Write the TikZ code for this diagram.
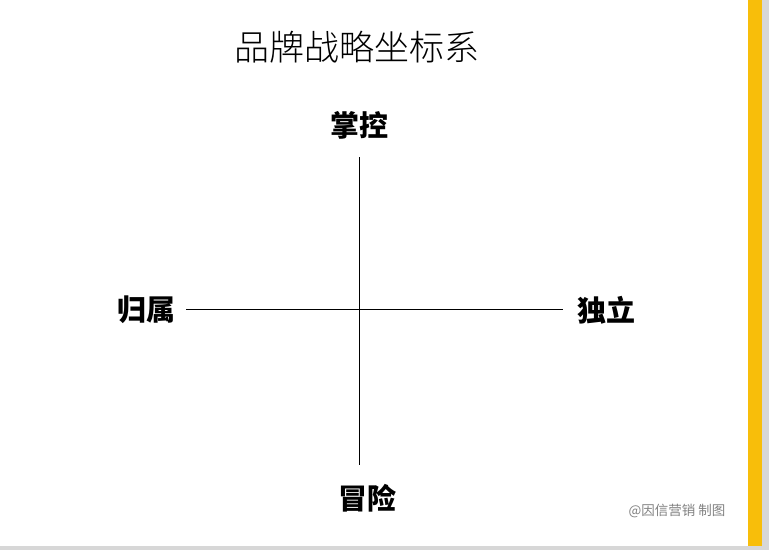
\documentclass[tikz,border=0pt]{standalone}
\usepackage{fontspec}
\newfontfamily\cjk{Noto Sans CJK SC}
\newfontfamily\cjklight{Noto Sans CJK SC Light}
\definecolor{mygold}{RGB}{248,190,10}
\definecolor{myshadow}{RGB}{215,215,215}
\tikzstyle{axislabel}=[font=\cjk\bfseries\fontsize{29}{34}\selectfont,inner sep=0pt]
\begin{document}
\begin{tikzpicture}[x=1pt,y=-1pt]
\useasboundingbox (0,0) rectangle (769,550);
\fill[myshadow] (0,546) rectangle (769,550);
\fill[myshadow] (762,0) rectangle (769,550);
\fill[mygold] (748,0) rectangle (762,546);
\node [font=\cjklight\fontsize{35}{40}\selectfont] (title) at (357,47) {品牌战略坐标系};
\node [axislabel] (top) at (359,125) {掌控};
\node [axislabel] (bottom) at (367,498) {冒险};
\node [axislabel] (left) at (146,310) {归属};
\node [axislabel] (right) at (606,310) {独立};
\coordinate (n) at (359,157);
\coordinate (s) at (359,465);
\coordinate (w) at (186,309);
\coordinate (e) at (563,309);
\draw[thin] (n) -- (s);
\draw[thin] (w) -- (e);
\node [font=\cjk\fontsize{13.5}{16}\selectfont,text=gray] (mark) at (677,511) {@因信营销 制图};
\end{tikzpicture}
\end{document}
